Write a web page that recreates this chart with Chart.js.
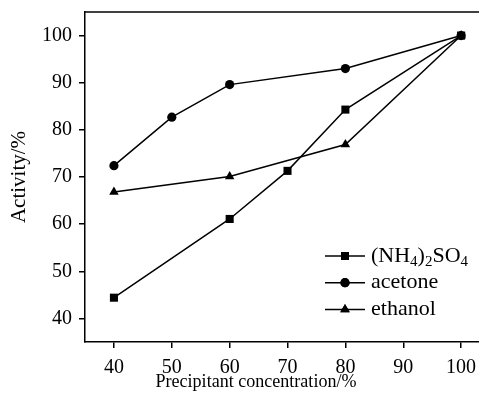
<!DOCTYPE html>
<html>
<head>
<meta charset="utf-8">
<script src="https://cdn.jsdelivr.net/npm/chart.js@4"></script>
<style>
  html, body { margin: 0; padding: 0; background: #fff; overflow: hidden; }
  #wrap { width: 479px; height: 398px; overflow: hidden; }
</style>
</head>
<body>
<div id="wrap"><canvas id="lineChart" width="486" height="398"></canvas></div>
<script>
var seriesNames = ["(NH4)2SO4", "acetone", "ethanol"];
var nh4X = [40, 60, 70, 80, 100];
var nh4Y = [44.4, 61.1, 71.3, 84.3, 100];
var acetoneX = [40, 50, 60, 80, 100];
var acetoneY = [72.4, 82.7, 89.6, 93.0, 100];
var ethanolX = [40, 60, 80, 100];
var ethanolY = [66.8, 70.1, 76.9, 100];
var xTicks = [40, 50, 60, 70, 80, 90, 100];
var yTicks = [40, 50, 60, 70, 80, 90, 100];
var xTitle = "Precipitant concentration/%";

var serif = "'Liberation Serif', 'DejaVu Serif', serif";

function pts(xs, ys) {
    return xs.map(function (x, i) { return { x: x, y: ys[i] }; });
}

function makeSet(label, data, style, radius) {
    return {
        label: label,
        data: data,
        borderColor: "#000",
        backgroundColor: "#000",
        borderWidth: 1.5,
        pointStyle: style,
        pointRadius: radius,
        pointBorderWidth: 0,
        pointBackgroundColor: "#000",
        tension: 0,
        fill: false
    };
}

// draws text, digits as subscripts
function drawSubText(ctx, text, x, y) {
    var parts = text.match(/\d+|\D+/g);
    parts.forEach(function (p) {
        if (/^\d+$/.test(p)) {
            ctx.font = "15px " + serif;
            ctx.fillText(p, x, y + 6);
        } else {
            ctx.font = "22px " + serif;
            ctx.fillText(p, x, y);
        }
        x += ctx.measureText(p).width;
    });
}

// top frame line, legend inside the plot, x title (left of centre in the original)
var legendBox = {
    id: "legendBox",
    afterDraw: function (chart) {
        var ctx = chart.ctx;
        var area = chart.chartArea;
        ctx.save();
        ctx.strokeStyle = "#000";
        ctx.lineWidth = 1.5;
        ctx.beginPath();
        ctx.moveTo(area.left, area.top);
        ctx.lineTo(chart.width, area.top);
        ctx.stroke();

        chart.data.datasets.forEach(function (ds, i) {
            var y = area.bottom - 86 + i * 26.7;
            var x0 = 325;
            ctx.beginPath();
            ctx.moveTo(x0, y);
            ctx.lineTo(x0 + 40, y);
            ctx.stroke();
            ctx.fillStyle = "#000";
            Chart.helpers.drawPoint(ctx, {
                pointStyle: ds.pointStyle,
                radius: ds.pointRadius,
                rotation: 0,
                borderWidth: 0
            }, x0 + 20, y);
            ctx.fill();
            ctx.textBaseline = "middle";
            ctx.textAlign = "left";
            drawSubText(ctx, ds.label, x0 + 46, y);
        });

        ctx.translate(256, area.bottom + 45);
        ctx.scale(0.95, 1);
        ctx.font = "19px " + serif;
        ctx.textAlign = "center";
        ctx.textBaseline = "alphabetic";
        ctx.fillText(xTitle, 0, 0);
        ctx.restore();
    }
};

new Chart("lineChart", {
    type: "line",
    data: {
        datasets: [
            makeSet(seriesNames[0], pts(nh4X, nh4Y), "rect", 5.7),
            makeSet(seriesNames[1], pts(acetoneX, acetoneY), "circle", 4.6),
            makeSet(seriesNames[2], pts(ethanolX, ethanolY), "triangle", 5.5)
        ]
    },
    options: {
        responsive: false,
        animation: false,
        layout: { autoPadding: false, padding: { top: 12, right: 0, left: 0, bottom: 0 } },
        plugins: {
            legend: { display: false },
            tooltip: { enabled: false }
        },
        scales: {
            x: {
                type: "linear",
                min: 35,
                max: 104.3,
                afterBuildTicks: function (axis) {
                    axis.ticks = xTicks.map(function (v) { return { value: v }; });
                },
                afterFit: function (axis) {
                    axis.height = 56;
                    axis.paddingLeft = 0;
                    axis.paddingRight = 0;
                },
                border: { display: true, color: "#000", width: 1.5 },
                grid: { drawOnChartArea: false, drawTicks: true, tickLength: 6, color: "#000", lineWidth: 1.5 },
                ticks: { color: "#000", padding: 8, maxRotation: 0, font: { family: serif, size: 20 } },
                title: { display: false }
            },
            y: {
                min: 35,
                max: 105,
                afterBuildTicks: function (axis) {
                    axis.ticks = yTicks.map(function (v) { return { value: v }; });
                },
                afterFit: function (axis) {
                    axis.width = 85;
                    axis.paddingTop = 0;
                    axis.paddingBottom = 0;
                },
                border: { display: true, color: "#000", width: 1.5 },
                grid: { drawOnChartArea: false, drawTicks: true, tickLength: 6, color: "#000", lineWidth: 1.5 },
                ticks: { color: "#000", padding: 7, font: { family: serif, size: 20 } },
                title: {
                    display: true,
                    text: "Activity/%",
                    color: "#000",
                    padding: { top: 7, bottom: 0 },
                    font: { family: serif, size: 21 }
                }
            }
        }
    },
    plugins: [legendBox]
});
</script>
</body>
</html>
